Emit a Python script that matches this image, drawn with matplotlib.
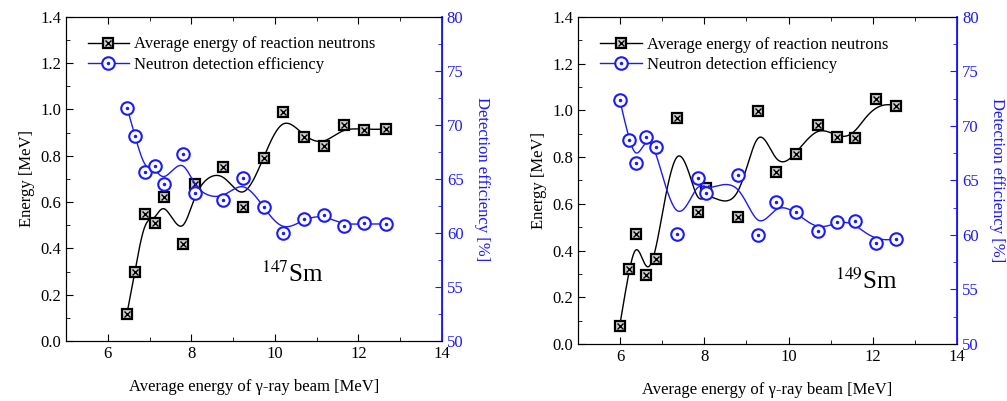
import numpy as np
import matplotlib
matplotlib.use("Agg")
import matplotlib.pyplot as plt
from matplotlib.ticker import MultipleLocator

plt.rcParams['font.family'] = ['Liberation Serif', 'DejaVu Serif']
plt.rcParams['mathtext.fontset'] = 'stix'

# 147Sm
x147 = [6.46, 6.65, 6.88, 7.12, 7.34, 7.80, 8.10, 8.76, 9.23, 9.73, 10.19, 10.69, 11.18, 11.66, 12.14, 12.65]
en147 = [0.118, 0.30, 0.55, 0.508, 0.62, 0.42, 0.679, 0.75, 0.58, 0.792, 0.987, 0.881, 0.843, 0.931, 0.911, 0.915]
eff147 = [71.6, 69.0, 65.6, 66.2, 64.5, 67.3, 63.7, 63.0, 65.05, 62.4, 60.0, 61.3, 61.7, 60.6, 60.9, 60.8]

# 149Sm
x149 = [5.99, 6.21, 6.38, 6.61, 6.85, 7.35, 7.84, 8.04, 8.80, 9.27, 9.71, 10.18, 10.69, 11.14, 11.58, 12.07, 12.55]
en149 = [0.078, 0.319, 0.469, 0.296, 0.362, 0.968, 0.563, 0.667, 0.545, 0.997, 0.737, 0.814, 0.937, 0.887, 0.88, 1.047, 1.018]
eff149 = [72.4, 68.7, 66.6, 69.0, 68.06, 60.05, 65.2, 63.87, 65.5, 59.96, 63.0, 62.07, 60.4, 61.18, 61.25, 59.26, 59.65]

xlabel = 'Average energy of \u03b3-ray beam [MeV]'
lab_en = 'Average energy of reaction neutrons'
lab_eff = 'Neutron detection efficiency'
blue = '#1a1aff'


def bspline(px, py, num=500):
    # clamped cubic B-spline with the data points as control points
    px = np.asarray(px, float)
    py = np.asarray(py, float)
    n = len(px)
    k = 3
    t = np.concatenate([np.zeros(k), np.arange(n - k + 1), np.full(k, n - k)])
    u = np.linspace(0, n - k, num)
    u[-1] -= 1e-9
    N = np.array([((t[i] <= u) & (u < t[i + 1])).astype(float) for i in range(len(t) - 1)])
    for d in range(1, k + 1):
        Nn = np.zeros((len(t) - 1 - d, len(u)))
        for i in range(len(t) - 1 - d):
            a = 0
            b = 0
            den1 = t[i + d] - t[i]
            den2 = t[i + d + 1] - t[i + 1]
            if den1 > 0:
                a = (u - t[i]) / den1 * N[i]
            if den2 > 0:
                b = (t[i + d + 1] - u) / den2 * N[i + 1]
            Nn[i] = a + b
        N = Nn
    return N.T @ px, N.T @ py


def panel(rect, x, en, eff, iso, iso_pos):
    ax = fig.add_axes(rect)
    ax2 = ax.twinx()

    cx, cy = bspline(x, en)
    l1, = ax.plot(cx, cy, color='black', lw=1)
    m1, = ax.plot(x, en, ls='none', marker='s', ms=7, mfc='#d0d0d0', mec='black', mew=1.6)
    m1x, = ax.plot(x, en, ls='none', marker='x', ms=4.5, mec='black', mew=1)

    bx, by = bspline(x, eff)
    l2, = ax2.plot(bx, by, color=blue, lw=1)
    m2, = ax2.plot(x, eff, ls='none', marker='o', ms=9, mfc='white', mec=blue, mew=1.5)
    m2d, = ax2.plot(x, eff, ls='none', marker='o', ms=1.5, mfc=blue, mec=blue)

    ax.set_xlim(5, 14)
    ax.set_ylim(0, 1.4)
    ax2.set_ylim(50, 80)
    ax.xaxis.set_major_locator(MultipleLocator(2))
    ax.xaxis.set_minor_locator(MultipleLocator(1))
    ax.yaxis.set_major_locator(MultipleLocator(0.2))
    ax.yaxis.set_minor_locator(MultipleLocator(0.1))
    ax.yaxis.set_major_formatter(matplotlib.ticker.FormatStrFormatter('%.1f'))
    ax2.yaxis.set_major_locator(MultipleLocator(5))
    ax2.yaxis.set_minor_locator(MultipleLocator(2.5))

    ax.tick_params(which='both', direction='in', top=True, right=False, labelsize=12)
    ax.tick_params(which='major', length=5)
    ax.tick_params(which='minor', length=3)
    ax2.tick_params(which='both', direction='in', colors=blue, labelsize=12)
    ax2.tick_params(which='major', length=5)
    ax2.tick_params(which='minor', length=3)
    ax2.spines['right'].set_color(blue)
    ax2.spines['right'].set_linewidth(1.3)

    ax.set_xlabel(xlabel, fontsize=12, labelpad=12)
    ax.set_ylabel('Energy [MeV]', fontsize=12)
    ax2.set_ylabel('Detection efficiency [%]', fontsize=12, color=blue, rotation=270, labelpad=19)

    ax2.legend([(l1, m1, m1x), (l2, m2, m2d)], [lab_en, lab_eff], loc='upper left',
               bbox_to_anchor=(0.04, 0.96), frameon=False, fontsize=12,
               handlelength=2.5, handletextpad=0.3, labelspacing=0.25, borderaxespad=0)

    ax2.text(iso_pos[0], iso_pos[1], r'$^{' + iso + '}$Sm', fontsize=18,
             transform=ax.transData, ha='left', va='center')


fig = plt.figure(figsize=(10.07, 4.01), dpi=100)
panel([0.0655, 0.1496, 0.3734, 0.8087], x147, en147, eff147, '147', (9.67, 0.29))
panel([0.574, 0.1421, 0.3764, 0.816], x149, en149, eff149, '149', (11.1, 0.27))

fig.savefig('out.png', dpi=100)
